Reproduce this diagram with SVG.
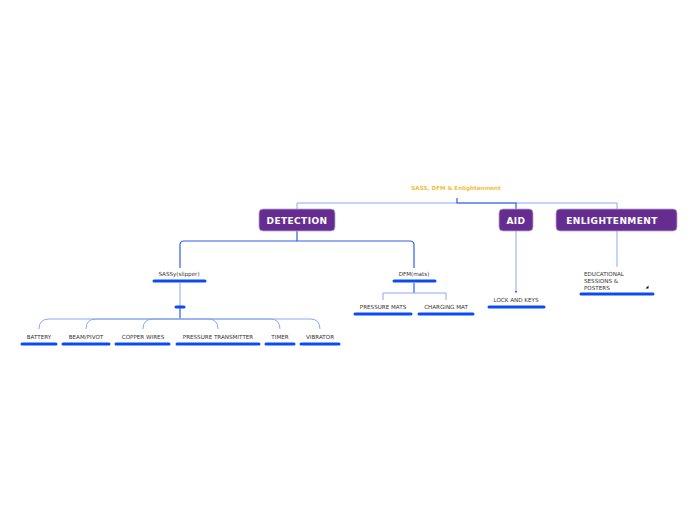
<svg xmlns="http://www.w3.org/2000/svg" width="696" height="520" viewBox="0 0 696 520">
<style>
.t{font-family:"DejaVu Sans",Verdana,sans-serif;font-size:5.6px;fill:#333;text-anchor:middle}
.h{font-family:"DejaVu Sans",Verdana,sans-serif;font-size:9px;font-weight:bold;fill:#fff;text-anchor:middle;letter-spacing:0.4px}
.box{fill:#662d91;stroke:#b9a3cf;stroke-width:0.8}
.bar{stroke:#0a4cf2;stroke-width:3;stroke-linecap:round}
.lt{fill:none;stroke:#8aa8f5;stroke-width:1}
.dk{fill:none;stroke:#2f5ee8;stroke-width:1.2}
</style>
<rect width="696" height="520" fill="#fff"/>
<g id="connectors">
<path class="lt" d="M297,209 V203 H617 V209"/>
<path class="dk" d="M457,198 V203 H516 V209"/>
<path class="dk" d="M297,231 V241 H410 Q414,241 414,245 V268"/>
<path class="dk" d="M297,241 H184 Q180,241 180,245 V268"/>
<path class="lt" d="M180,283 V306"/>
<path class="dk" d="M180,308 V319"/>
<path class="lt" d="M180,319 H49 Q39,319 39,329"/>
<path class="lt" d="M180,319 H96 Q86,319 86,329"/>
<path class="lt" d="M180,319 H153 Q143,319 143,329"/>
<path class="lt" d="M180,319 H208 Q218,319 218,329"/>
<path class="lt" d="M180,319 H270 Q280,319 280,329"/>
<path class="lt" d="M180,319 H310 Q320,319 320,329"/>
<path class="dk" d="M414,283 V293"/>
<path class="lt" d="M383,300 V293 H446 V300"/>
<path class="lt" d="M516,231 V292"/>
<path d="M514.8,291 L517.2,291 L516,293.5 Z" fill="#2f5ee8"/>
<path class="lt" d="M617,231 V267"/>
</g>
<g id="root"><text x="456" y="190" class="t" style="fill:#f0c040;font-weight:bold">SASS, DFM &amp; Enlightenment</text></g>
<g id="detection"><rect class="box" x="259" y="209" width="76" height="22" rx="4"/><text class="h" x="297" y="224">DETECTION</text></g>
<g id="aid"><rect class="box" x="499" y="209" width="34" height="22" rx="4"/><text class="h" x="516" y="224">AID</text></g>
<g id="enlightenment"><rect class="box" x="556" y="209" width="121" height="22" rx="4"/><text class="h" x="612" y="224">ENLIGHTENMENT</text></g>
<g id="sassy"><text class="t" x="179" y="276">SASSy(slipper)</text><line class="bar" x1="154" y1="281" x2="205" y2="281"/></g>
<g id="sassy-sub"><line class="bar" x1="176" y1="307" x2="184" y2="307"/></g>
<g id="dfm"><text class="t" x="414" y="276">DFM(mats)</text><line class="bar" x1="394" y1="281" x2="435" y2="281"/></g>
<g id="battery"><text class="t" x="39" y="339">BATTERY</text><line class="bar" x1="22" y1="344" x2="56" y2="344"/></g>
<g id="beam"><text class="t" x="86" y="339">BEAM/PIVOT</text><line class="bar" x1="63" y1="344" x2="109" y2="344"/></g>
<g id="copper"><text class="t" x="143" y="339">COPPER WIRES</text><line class="bar" x1="116" y1="344" x2="169" y2="344"/></g>
<g id="transmitter"><text class="t" x="218" y="339">PRESSURE TRANSMITTER</text><line class="bar" x1="177" y1="344" x2="259" y2="344"/></g>
<g id="timer"><text class="t" x="280" y="339">TIMER</text><line class="bar" x1="266" y1="344" x2="294" y2="344"/></g>
<g id="vibrator"><text class="t" x="320" y="339">VIBRATOR</text><line class="bar" x1="301" y1="344" x2="339" y2="344"/></g>
<g id="pmats"><text class="t" x="383" y="309">PRESSURE MATS</text><line class="bar" x1="355" y1="314" x2="411" y2="314"/></g>
<g id="cmat"><text class="t" x="446" y="309">CHARGING MAT</text><line class="bar" x1="419" y1="314" x2="473" y2="314"/></g>
<g id="lock"><text class="t" x="516" y="302">LOCK AND KEYS</text><line class="bar" x1="489" y1="307" x2="544" y2="307"/></g>
<g id="edu"><text class="t" style="text-anchor:start" x="584" y="276"><tspan x="584">EDUCATIONAL</tspan><tspan x="584" dy="7">SESSIONS &amp;</tspan><tspan x="584" dy="7">POSTERS</tspan></text><path d="M648.5,285.5 V288.5 H645.5 Z" fill="#000"/><line class="bar" x1="581" y1="294" x2="653" y2="294"/></g>
</svg>
